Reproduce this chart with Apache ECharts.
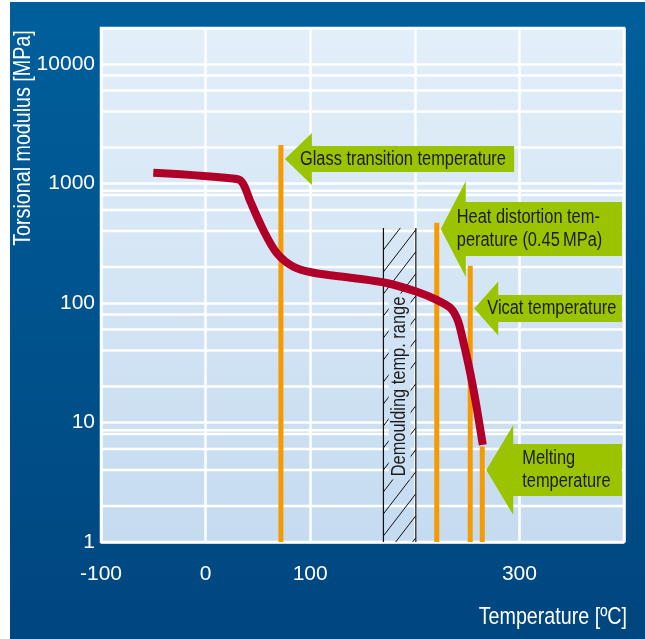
<!DOCTYPE html>
<html>
<head>
<meta charset="utf-8">
<script src="https://cdn.jsdelivr.net/npm/echarts@6.0.0/dist/echarts.min.js"></script>
<style>
  html, body { margin: 0; padding: 0; background: #ffffff; }
  #chart { width: 645px; height: 639px; }
</style>
</head>
<body>
<div id="chart"></div>
<script>
// ---- data ----
// torsional modulus vs. temperature
const curveTemp    = [-50, 30, 36, 43, 55, 68, 84, 103, 141, 173, 202, 221, 234, 241, 246, 253, 259, 265];
const curveModulus = [1230, 1090, 990, 700, 410, 262, 201, 179, 162, 147, 124, 106, 91, 72, 49, 26, 13.6, 6.5];

// characteristic temperatures (vertical markers)
const markerTemp = [72, 221, 253, 264.5];
const markerTop  = [2100, 470, 205, 6.3];

// arrow callouts pointing at the markers
const arrowText  = ['Glass transition temperature',
                    'Heat distortion tem-\nperature (0.45\u2009MPa)',
                    'Vicat temperature',
                    'Melting\ntemperature'];
const arrowLevel = [1600, 416, 90, 4.0];
const arrowEnd   = [295, 398, 398, 398];

// demoulding temperature range (hatched band)
const demouldRange = [170, 201];
const demouldTop   = 425;
const demouldLabel = 'Demoulding temp. range';
const demouldLabelLevel = 20;

// axes
const xTickLabels = [-100, 0, 100, 300];
const yTickLabels = [1, 10, 100, 1000, 10000];
const yMinorGrid  = [2, 4, 6, 8, 8.6, 20, 40, 60, 80, 200, 400, 600, 800, 870, 2000, 4000, 6000, 8000];

// ---- styling ----
const FONT = "'Liberation Sans', Arial, sans-serif";
const NARROW = 0.82;   // horizontal squeeze for a condensed look
const RED = '#b0002a', ORANGE = '#f59b00', GREEN = '#9bc400', INK = '#1c1c1c';
const PLOT_STOPS = [{ offset: 0, color: '#e3eff9' }, { offset: 1, color: '#c5dbf0' }];
// per-arrow geometry: [headHalf, headLen, bodyHalf, textOffset]
const arrowShape = [[26, 27, 13, 15], [48, 25, 27, 16], [27, 24, 13.5, 13], [45, 27, 26, 36]];

const chart = echarts.init(document.getElementById('chart'), null, { renderer: 'canvas' });

const markerSeries = markerTemp.map((t, i) => ({
  type: 'line', z: 4, silent: true, symbol: 'none', animation: false,
  data: [[t, 1], [t, markerTop[i]]],
  lineStyle: { color: ORANGE, width: 5, cap: 'butt' }
}));

const option = {
  animation: false,
  grid: {
    left: 101, top: 28, width: 523, height: 514,
    show: true, borderColor: '#ffffff', borderWidth: 2.5,
    backgroundColor: { type: 'linear', x: 0, y: 0, x2: 0, y2: 1, colorStops: PLOT_STOPS },
    outerBoundsMode: 'none'
  },
  xAxis: {
    type: 'value', min: -100, max: 400, interval: 100,
    axisLine: { show: false }, axisTick: { show: false },
    splitLine: { show: true, lineStyle: { color: '#ffffff', width: 2.5 } },
    axisLabel: {
      color: '#ffffff', fontFamily: FONT, fontSize: 21, margin: 22,
      formatter: v => xTickLabels.includes(v) ? String(v) : ''
    }
  },
  yAxis: {
    type: 'log', logBase: 10, min: 1, max: 20000,
    axisLine: { show: false }, axisTick: { show: false },
    splitLine: { show: true, lineStyle: { color: '#ffffff', width: 2.5 } },
    minorSplitLine: { show: false },
    axisLabel: {
      color: '#ffffff', fontFamily: FONT, fontSize: 21, margin: 6,
      formatter: v => {
        const hit = yTickLabels.find(t => Math.abs(Math.log10(v) - Math.log10(t)) < 1e-6);
        return hit !== undefined ? String(hit) : '';
      }
    }
  },
  graphic: [
    {
      type: 'rect', left: 10, top: 2, z: -100, silent: true,
      shape: { width: 635, height: 637 },
      style: { fill: { type: 'linear', x: 0, y: 0, x2: 0, y2: 1,
        colorStops: [{ offset: 0, color: '#005f9b' }, { offset: 1, color: '#00467f' }] } }
    },
    {
      type: 'text', x: 23, y: 138, rotation: Math.PI / 2, scaleX: NARROW, z: 100,
      style: { text: 'Torsional modulus [MPa]', fill: '#ffffff', fontFamily: FONT, fontSize: 24,
               align: 'center', verticalAlign: 'middle' }
    },
    {
      type: 'text', x: 627, y: 617, scaleX: NARROW, z: 100,
      style: { text: 'Temperature [ºC]', fill: '#ffffff', fontFamily: FONT, fontSize: 24,
               align: 'right', verticalAlign: 'middle' }
    }
  ],
  series: [
    // minor horizontal grid lines
    {
      type: 'custom', z: 1, silent: true,
      data: yMinorGrid.map(v => [-100, v]),
      encode: { x: 0, y: 1 },
      renderItem: (params, api) => {
        const cs = params.coordSys;
        const y = api.coord([api.value(0), api.value(1)])[1];
        return { type: 'line', shape: { x1: cs.x, y1: y, x2: cs.x + cs.width, y2: y },
                 style: { stroke: '#ffffff', lineWidth: 2.5 } };
      }
    },
    // hatched demoulding band
    {
      type: 'custom', z: 3, silent: true,
      data: [[demouldRange[0], demouldRange[1], demouldTop, demouldLabelLevel]],
      encode: { x: [0, 1], y: [2, 3] },
      renderItem: (params, api) => {
        const cs = params.coordSys;
        const tl = api.coord([api.value(0), api.value(2)]);
        const br = api.coord([api.value(1), 1]);
        const L = tl[0], R = br[0], T = tl[1], B = br[1], w = R - L;
        const s = 1.3, step = 22;
        const children = [];
        for (let c = T; c <= B + s * w + step; c += step) {
          let x0 = L, y0 = c, x1 = R, y1 = c - s * w;
          if (y0 > B) { x0 = L + (y0 - B) / s; y0 = B; }
          if (y1 < T) { x1 = L + (c - T) / s; y1 = T; }
          if (x1 - x0 > 0.5) {
            children.push({ type: 'line', shape: { x1: x0, y1: y0, x2: x1, y2: y1 },
                            style: { stroke: '#111111', lineWidth: 1 } });
          }
        }
        children.push({ type: 'line', shape: { x1: L, y1: T, x2: L, y2: B }, style: { stroke: '#111111', lineWidth: 1.2 } });
        children.push({ type: 'line', shape: { x1: R, y1: T, x2: R, y2: B }, style: { stroke: '#111111', lineWidth: 1.2 } });
        const cx = (L + R) / 2;
        const cy = api.coord([api.value(0), api.value(3)])[1];
        children.push({
          type: 'rect', shape: { x: cx - 11, y: cy - 93, width: 22, height: 186 },
          style: { fill: { type: 'linear', global: true, x: 0, y: cs.y, x2: 0, y2: cs.y + cs.height, colorStops: PLOT_STOPS } }
        });
        children.push({
          type: 'text', x: cx, y: cy, rotation: Math.PI / 2, scaleX: NARROW,
          style: { text: demouldLabel, fill: INK, fontFamily: FONT, fontSize: 20,
                   align: 'center', verticalAlign: 'middle' }
        });
        return { type: 'group', children };
      }
    },
    ...markerSeries,
    // modulus curve
    {
      type: 'line', z: 5, silent: true, symbol: 'none',
      smooth: 0.3,
      data: curveTemp.map((t, i) => [t, curveModulus[i]]),
      lineStyle: { color: RED, width: 8, cap: 'butt', join: 'round' }
    },
    // arrow callouts
    {
      type: 'custom', z: 6, silent: true,
      data: markerTemp.map((t, i) => [t, arrowLevel[i], arrowEnd[i], i]),
      encode: { x: [0, 2], y: 1 },
      renderItem: (params, api) => {
        const i = api.value(3);
        const [hh, hl, bh, tOff] = arrowShape[i];
        const p = api.coord([api.value(0), api.value(1)]);
        const endX = api.coord([api.value(2), api.value(1)])[0];
        const tip = p[0] + 4, cy = p[1], base = tip + hl;
        return {
          type: 'group',
          children: [
            { type: 'polygon',
              shape: { points: [[tip, cy], [base, cy - hh], [base, cy - bh], [endX, cy - bh],
                                [endX, cy + bh], [base, cy + bh], [base, cy + hh]] },
              style: { fill: GREEN } },
            { type: 'text', x: tip + tOff, y: cy, scaleX: NARROW,
              style: { text: arrowText[i], fill: INK, fontFamily: FONT, fontSize: 20, lineHeight: 23,
                       align: 'left', verticalAlign: 'middle' } }
          ]
        };
      }
    }
  ]
};

chart.setOption(option);
</script>
</body>
</html>
